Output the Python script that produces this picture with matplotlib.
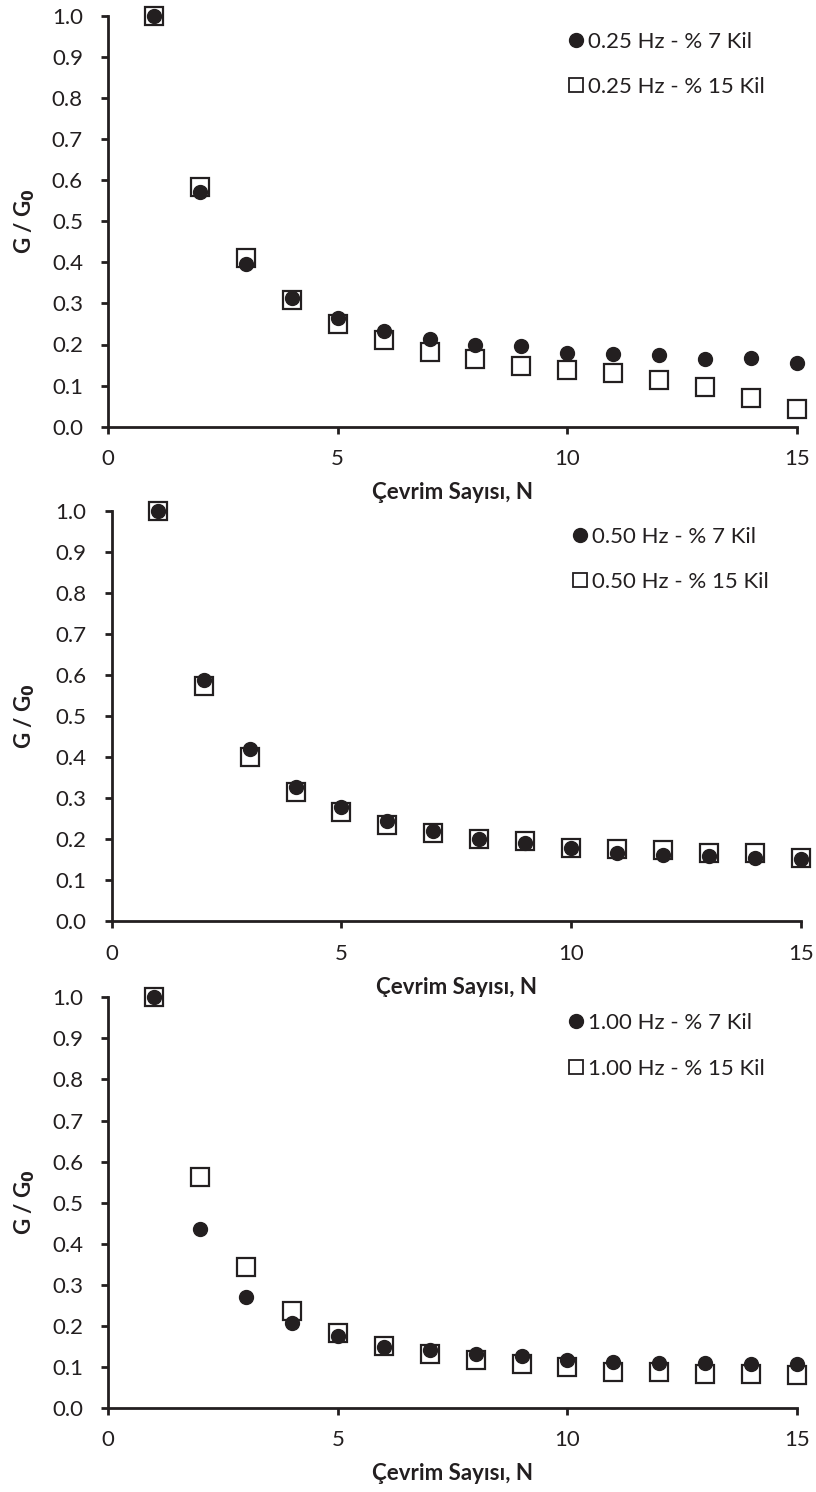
import numpy as np
import matplotlib
matplotlib.use('Agg')
import matplotlib.pyplot as plt
from matplotlib.ticker import FormatStrFormatter

plt.rcParams['font.family'] = ['Lato', 'DejaVu Sans']

# cycle numbers
N = np.arange(1, 16)

# G / G0
g_025_7 = [1.0, 0.570, 0.397, 0.314, 0.264, 0.234, 0.213, 0.199, 0.197, 0.180,
           0.177, 0.174, 0.165, 0.167, 0.154]
g_025_15 = [1.0, 0.582, 0.410, 0.308, 0.251, 0.212, 0.182, 0.164, 0.148, 0.138,
            0.131, 0.114, 0.096, 0.069, 0.042]
g_050_7 = [1.0, 0.588, 0.420, 0.328, 0.279, 0.245, 0.221, 0.200, 0.190, 0.179,
           0.167, 0.161, 0.159, 0.153, 0.151]
g_050_15 = [1.0, 0.573, 0.399, 0.316, 0.265, 0.235, 0.214, 0.200, 0.196, 0.179,
            0.176, 0.173, 0.166, 0.167, 0.153]
g_100_7 = [1.0, 0.435, 0.271, 0.206, 0.175, 0.149, 0.141, 0.131, 0.127, 0.117,
           0.112, 0.110, 0.110, 0.106, 0.108]
g_100_15 = [1.0, 0.563, 0.344, 0.237, 0.182, 0.152, 0.131, 0.117, 0.107, 0.099,
            0.088, 0.088, 0.082, 0.082, 0.080]

freqs = ['0.25', '0.50', '1.00']
series_7 = [g_025_7, g_050_7, g_100_7]
series_15 = [g_025_15, g_050_15, g_100_15]

W, H = 816, 1492
# axes boxes in pixels: left, right, top(y=1), bottom(y=0)
boxes = [(108, 797, 15.7, 426.7),
         (111.7, 801, 510.7, 921.3),
         (108.3, 797, 997.3, 1408)]

fig = plt.figure(figsize=(W / 100, H / 100), dpi=100)
ink = '#231f20'
fs = 16

for i in range(3):
    l, r, t, b = boxes[i]
    ax = fig.add_axes([l / W, 1 - b / H, (r - l) / W, (b - t) / H])
    ax.plot(N, series_15[i], 's', ms=13, mfc='white', mec=ink, mew=1.6,
            label='{} Hz - % 15 Kil'.format(freqs[i]), clip_on=False, zorder=3)
    ax.plot(N, series_7[i], 'o', ms=10, color=ink,
            label='{} Hz - % 7 Kil'.format(freqs[i]), clip_on=False, zorder=4)

    ax.set_xlim(0, 15)
    ax.set_ylim(0, 1.0)
    ax.set_xticks([0, 5, 10, 15])
    ax.set_yticks(np.arange(0, 1.01, 0.1))
    ax.yaxis.set_major_formatter(FormatStrFormatter('%.1f'))
    for s in ['top', 'right']:
        ax.spines[s].set_visible(False)
    for s in ['left', 'bottom']:
        ax.spines[s].set_linewidth(2)
        ax.spines[s].set_color(ink)
    ax.tick_params(direction='out', length=5, width=2, colors=ink,
                   labelsize=fs, labelcolor=ink)
    ax.tick_params(axis='x', pad=11)
    ax.tick_params(axis='y', pad=13)
    ax.set_xlabel('Çevrim Sayısı, N', fontsize=fs, fontweight='bold', color=ink)
    ax.set_ylabel('G / G$_\\mathbf{0}$', fontsize=fs, fontweight='bold', color=ink)
    ax.xaxis.set_label_coords(0.5, -66 / (b - t), transform=ax.transAxes)
    ax.xaxis.label.set_va('center')
    ax.yaxis.set_label_coords(-(l - 25) / (r - l), 0.5, transform=ax.transAxes)
    ax.yaxis.label.set_va('center')

    handles, labels = ax.get_legend_handles_labels()
    leg = ax.legend(handles[::-1], labels[::-1], loc='upper left',
                    bbox_to_anchor=(0.655, 0.983), frameon=False, fontsize=fs,
                    handlelength=0.7, handletextpad=0.2, labelspacing=1.15,
                    borderaxespad=0)
    leg.legend_handles[0].set_markersize(10)
    leg.legend_handles[1].set_markersize(10.5)
    leg.legend_handles[1].set_markeredgewidth(1.3)
    for txt in leg.get_texts():
        txt.set_color(ink)

fig.savefig('out.png', dpi=100)
